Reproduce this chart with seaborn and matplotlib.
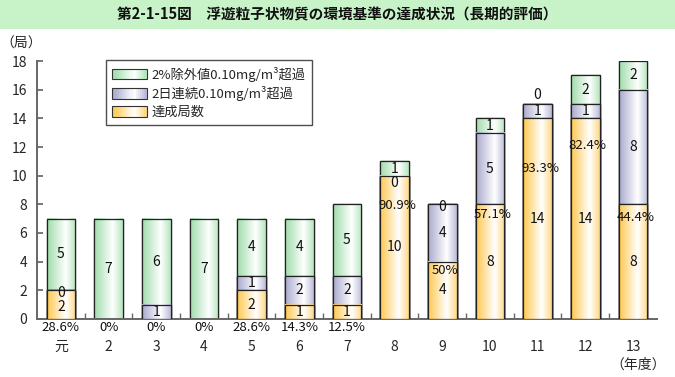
import matplotlib
matplotlib.use("Agg")
import matplotlib.pyplot as plt
import seaborn as sns
import pandas as pd
import numpy as np
from matplotlib.patches import Rectangle
from matplotlib.colors import to_rgb
from matplotlib.legend_handler import HandlerBase

years = ["元", "2", "3", "4", "5", "6", "7", "8", "9", "10", "11", "12", "13"]
achieved = [2, 0, 0, 0, 2, 1, 1, 10, 4, 8, 14, 14, 8]
consec = [0, 0, 1, 0, 1, 2, 2, 0, 4, 5, 1, 1, 8]
excl = [5, 7, 6, 7, 4, 4, 5, 1, 0, 1, 0, 2, 2]
pct = ["28.6%", "0%", "0%", "0%", "28.6%", "14.3%", "12.5%",
       "90.9%", "50%", "57.1%", "93.3%", "82.4%", "44.4%"]
# how far below the top of the yellow segment the percentage sits (inside bars)
pct_drop = [None] * 7 + [2.1, 0.65, 0.7, 3.5, 1.9, 0.9]

names = ["2%除外値0.10mg/m³超過", "2日連続0.10mg/m³超過", "達成局数"]
colors = {
    names[0]: ("#9fdcaa", "#b5e6be"),
    names[1]: ("#a9a9cf", "#bcbcda"),
    names[2]: ("#ffc850", "#ffd98a"),
}

df = pd.DataFrame({"year": years, "achieved": achieved, "consec": consec, "excl": excl})
df["c1"] = df["achieved"]
df["c2"] = df["achieved"] + df["consec"]
df["c3"] = df["c2"] + df["excl"]

sns.set_theme(style="white")
plt.rcParams["font.family"] = ["Noto Sans CJK JP", "DejaVu Sans"]


def gradient(left, right, n=64):
    t = np.linspace(0, 1, n)
    w = np.ones(3)
    l = np.array(to_rgb(left))
    r = np.array(to_rgb(right))
    out = np.zeros((1, n, 3))
    for i, v in enumerate(t):
        if v < 0.65:
            f = 1 - v / 0.65
            out[0, i] = w * (1 - f) + l * f
        else:
            f = (v - 0.65) / 0.35
            out[0, i] = w * (1 - f) + r * f
    return out


fig = plt.figure(figsize=(6.75, 3.77), dpi=100)
fig.patches.append(Rectangle((0, 0.923), 1, 0.077, transform=fig.transFigure,
                             facecolor="#c8f2c8", edgecolor="none", zorder=0))
fig.text(0.5, 0.962, "第2-1-15図　浮遊粒子状物質の環境基準の達成状況（長期的評価）",
         ha="center", va="center", fontsize=10.5, fontweight="bold", color="#111111")

ax = fig.add_axes([0.055, 0.154, 0.918, 0.684])

layers = [("c3", names[0]), ("c2", names[1]), ("c1", names[2])]
z = 2
for col, name in layers:
    sns.barplot(data=df, x="year", y=col, order=years, ax=ax, width=0.6,
                color="white", edgecolor="#222222", linewidth=0.9, zorder=z)
    cont = ax.containers[-1]
    img = gradient(*colors[name])
    for p in cont.patches:
        h = p.get_height()
        if h <= 0:
            p.set_visible(False)
            continue
        x0, w = p.get_x(), p.get_width()
        ax.imshow(img, extent=[x0, x0 + w, 0, h], aspect="auto",
                  zorder=z + 0.1, interpolation="bilinear")
        ax.add_patch(Rectangle((x0, 0), w, h, facecolor="none",
                               edgecolor="#222222", linewidth=0.9, zorder=z + 0.2))
    z += 1

ax.set_xlim(-0.5, 12.5)
ax.set_ylim(0, 18)

# segment value labels
for i in range(len(years)):
    segs = [(achieved[i], 0), (consec[i], achieved[i]),
            (excl[i], achieved[i] + consec[i])]
    for k, (v, b) in enumerate(segs):
        if v == 0 and b == 0:
            continue
        if v > 0:
            y = b + v / 2
            if k == 0 and v == 2 and consec[i] == 0:
                y = 0.85
        elif k > 0 and segs[k - 1][0] < 2:
            y = b + 0.6
        elif k < 2 and segs[k + 1][0] == 1:
            y = b - 0.5
        else:
            y = b - 0.2
        ax.text(i, y, str(v), ha="center", va="center", fontsize=10,
                color="#111111", zorder=10)
    if pct_drop[i] is None:
        ax.text(i, -0.58, pct[i], ha="center", va="center", fontsize=9.5,
                color="#111111", clip_on=False)
    else:
        ax.text(i + 0.05, achieved[i] - pct_drop[i], pct[i], ha="center",
                va="center", fontsize=9.5, color="#111111", zorder=10)

sns.despine(ax=ax)
for s in ["left", "bottom"]:
    ax.spines[s].set_color("#666666")
    ax.spines[s].set_linewidth(1.4)
ax.set_yticks(range(0, 19, 2))
ax.set_xticks(range(len(years)))
ax.set_xticklabels(years)
ax.tick_params(axis="y", direction="in", length=4, color="#666666",
               labelsize=10, pad=7, left=True)
ax.tick_params(axis="x", length=0, labelsize=10, pad=15)
ax.set_xticks(np.arange(0.5, 12.5, 1), minor=True)
ax.tick_params(axis="x", which="minor", direction="in", length=4,
               color="#666666", bottom=True)
ax.set_xlabel("")
ax.set_ylabel("")
ax.grid(False)

fig.text(0.032, 0.883, "（局）", ha="center", va="center", fontsize=10)
fig.text(0.945, 0.032, "（年度）", ha="center", va="center", fontsize=10)


class GradHandler(HandlerBase):
    def create_artists(self, legend, orig, xd, yd, width, height, fontsize, trans):
        left, right = orig.get_label_colors
        img = gradient(left, right, 16)[0]
        arts = []
        sw = width / len(img)
        for j, c in enumerate(img):
            arts.append(Rectangle((j * sw, -yd), sw + 0.3, height,
                                  facecolor=c, edgecolor="none", transform=trans))
        arts.append(Rectangle((0, -yd), width, height, facecolor="none",
                              edgecolor="#333333", linewidth=0.8, transform=trans))
        return arts


handles = []
for name in names:
    r = Rectangle((0, 0), 1, 1)
    r.get_label_colors = colors[name]
    handles.append(r)

leg = ax.legend(handles, names, handler_map={Rectangle: GradHandler()},
                loc="upper left", bbox_to_anchor=(0.1, 1.03), frameon=True,
                fontsize=9.5, handlelength=2.6, handleheight=0.9,
                handletextpad=0.4, labelspacing=0.35, borderpad=0.5)
leg.get_frame().set_edgecolor("#222222")
leg.get_frame().set_linewidth(1.0)
leg.get_frame().set_boxstyle("square", pad=0)
leg.set_zorder(20)

fig.savefig("out.png", dpi=100)
